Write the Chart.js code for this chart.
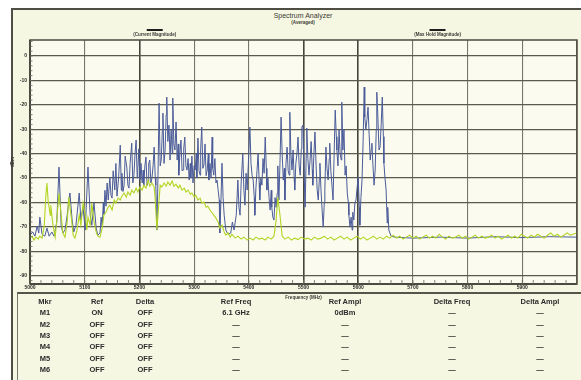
<!DOCTYPE html>
<html>
<head>
<meta charset="utf-8">
<script src="https://cdn.jsdelivr.net/npm/chart.js@4.4.1/dist/chart.umd.min.js"></script>
<style>
  html, body { margin: 0; padding: 0; background: #ffffff; }
  #wrap { position: relative; width: 581px; height: 380px; overflow: hidden;
          font-family: "Liberation Sans", Arial, sans-serif; }
  #panel { position: absolute; left: 11px; top: 8px; width: 580px; height: 380px;
           background: #f5f7e3; border-left: 2px solid #4e4e44; border-top: 2px solid #4e4e44;
           box-sizing: border-box; }
  #chartBox { position: absolute; left: 0; top: 0; width: 581px; height: 300px; }
  .hdr { position: absolute; transform: translate(-50%, -50%); white-space: nowrap; color: #3a3a34; }
  #title { left: 303px; top: 15px; font-size: 7px; }
  #subtitle { left: 303px; top: 22px; font-size: 4.5px; font-weight: bold; }
  #table { position: absolute; left: 17px; top: 292px; width: 570px; height: 100px;
           border-top: 2px solid #55554a; border-left: 1px solid #77776a; box-sizing: border-box; }
  .cell { position: absolute; transform: translate(-50%, -50%); white-space: nowrap;
          font-size: 7.5px; font-weight: bold; color: #2c2c2c; }
</style>
</head>
<body>
<div id="wrap">
  <div id="panel"></div>
  <div id="title" class="hdr">Spectrum Analyzer</div>
  <div id="subtitle" class="hdr">(Averaged)</div>
  <div id="chartBox"><canvas id="c" width="581" height="300"></canvas></div>
  <div id="table"></div>
</div>
<script>
// Max hold trace: frequency in MHz, level in dBm
const maxHoldFreq = [
  5000,5005,5009,5013,5016,5018,5022,5027,5031,5035,5040,5044,5049,5053,5057,5060,5064,5068,5071,5073,5077,5080,5084,5090,5093,5097,5101,5106,5110,5113,5117,5121,5124,
  5128,5130,5132,5134,5135,5137,5139,5141,5143,5146,5148,5150,5152,5155,5157,5159,5162,5165,5167,5168,5170,5172,5174,5177,5179,5181,5183,5186,5188,5190,5192,5194,5196,5197,5199,5201,5203,5205,5207,5208,5210,5212,5214,5216,5217,5219,5221,5223,5225,5227,5229,5230,5232,
  5234,5236,5238,5240,5242,5243,5245,5247,5249,5250,5252,5254,5255,5256,5258,5260,5261,5263,5265,5267,5269,5271,5272,5274,5276,5278,5280,5281,5283,5285,5287,5289,5291,5293,5294,5296,5298,5300,5302,5304,5305,5307,5309,5311,5312,5314,5316,5318,5320,5322,5324,5326,5327,5329,5331,5333,5334,5336,5338,5340,5342,5344,5346,5347,5349,5351,5353,5355,5358,
  5362,5367,5370,5373,5377,5380,5382,5384,5386,5389,5391,5393,5395,5397,5399,5402,5404,5406,5408,5410,5411,5413,5415,5417,5419,5420,5422,5424,5426,5428,5430,5432,5433,5435,5437,5439,5441,5442,5444,5446,5448,5450,5452,5453,5455,5457,5459,5461,5463,5465,
  5466,5468,5470,5472,5474,5475,5477,5479,5481,5483,5484,5486,5488,5490,5492,5494,5496,5497,5499,5501,5503,5505,5506,5508,5510,5512,5514,5516,5517,5519,5521,5523,5525,5527,5529,5530,5532,5534,5536,5538,
  5539,5541,5543,5545,5547,5548,5550,5552,5554,5556,5558,5560,5561,5563,5565,5567,5569,5570,5572,5574,5576,5578,5580,5582,5583,5585,5587,5589,5590,5592,5594,5596,5598,5600,5602,5603,5605,5607,5609,
  5611,5612,5614,5616,5618,5620,5622,5624,5625,5627,5629,5631,5633,5634,5636,5638,5640,5642,5644,5646,5647,5649,5651,5653,5654,5656,5658,5660,5667,5700,5750,5800,5850,5900,5950,6000];
const maxHoldLevel = [
  -73.4,-72.1,-73.8,-69.7,-72.5,-66.0,-73.0,-73.8,-70.5,-73.8,-72.1,-73.8,-68.0,-45.5,-69.3,-72.5,-71.3,-65.2,-59.0,-56.1,-67.2,-72.1,-69.3,-56.1,-67.2,-61.9,-71.3,-45.5,-65.2,-69.3,-60.2,-70.5,-73.4,
  -72.5,-66,-70,-60,-64.8,-55,-61.5,-52,-59.0,-49.6,-57,-58.2,-47,-54.9,-44,-57.4,-50,-36.5,-55,-48,-55.5,-52.9,-41,-45.5,-53,-54.1,-44,-35.7,-52,-48.8,-40,-34.4,-50,-46.7,-38,-50.8,-44,-52,-46.7,-52.9,-45,-41.4,-53,-51.6,-44,-42.6,-52,-50.0,-45,-37.3,-50,-52.9,-71.3,
  -48.8,-19.3,-45,-42.6,-30,-23.4,-44,-38.5,-24,-16.8,-35,-28.3,-34,-42.6,-30,-40,-17.2,-36,-38.5,-27,-42.6,-36,-48.8,-40,-34.4,-47,-46.7,-38,-33.2,-45,-46.7,-42,-50.8,-44,-50.0,-41,-52.0,-45,-46.7,-40,-50,-33.6,-47,-48.8,-38,-29.1,-46,-44.7,-36,-49,-46.7,-40,-50.8,-44,-50,-33.2,-46,-48.8,-42,-52,-50.8,-55,-59.0,-72.5,-60,-43.9,-58,-65.2,-71.3,
  -73.0,-72.5,-68,-71.3,-65.2,-50.8,-62,-65.2,-52,-39.8,-55,-61.1,-48,-54.9,-45,-29.1,-44,-48.8,-50.8,-58,-65.2,-54,-47,-39.8,-52,-59.0,-50,-52.9,-42,-48,-33.2,-46,-54.9,-50,-58,-63.1,-55,-61.9,-66,-67.2,-58,-62,-56.1,-45,-59.0,-44,-25.0,-40,-50.8,-46,
  -59.0,-44,-37.3,-47,-48.8,-23.0,-40,-46.7,-38.5,-50,-54.9,-44,-40,-33.2,-45,-48.8,-38,-29.1,-28.3,-46.7,-61.9,-40,-29.5,-42,-48.8,-42.6,-35,-46.7,-52.9,-40,-31.1,-45,-54.9,-59.0,-50,-43.9,-55,-63.1,-70.1,-60,
  -54.9,-37.3,-46,-50.8,-42,-35.7,-47,-52.9,-59.0,-40,-22.1,-33,-38.5,-45,-30.3,-40,-42.6,-18.9,-38.5,-30,-48.8,-45,-56.1,-60,-65.2,-70.1,-66,-71.3,-64,-67.2,-60,-59.0,-54,-49.6,-62,-69.3,-58,-50.8,-35,
  -12.7,-25,-30.3,-26,-20.9,-32,-42.6,-38,-35.7,-45,-52.9,-46.7,-30,-14.8,-25,-38.5,-37.3,-28,-16.8,-33,-43.9,-50,-54.9,-68.4,-62,-71.3,-72.5,-73.8,-74.2,-74.6,-74.2,-74.6,-74.0,-74.4,-74.0,-74.2];

// Current trace: frequency in MHz, level in dBm
const currentFreq = [5000,5004,5007,5011,5015,5018,5022,5026,5029,5031,5033,5037,5038,5042,5046,5049,5053,5057,5060,5064,5068,5071,5075,5079,5082,5086,5090,5093,5097,5101,5104,5106,5110,5113,5117,5121,5124,5128,5132,5135,5139,5143,5146,5150,5154,5157,5161,5165,5168,5172,5176,5179,5183,5186,5190,5194,5197,5201,5205,5208,5212,5216,5219,5223,5227,5229,5232,5236,5238,5241,5245,5249,5252,5256,5260,5263,5267,5271,5274,5278,5282,5285,5289,5293,5296,5300,5303,5307,5311,5314,5318,5322,5325,5329,5333,5336,5340,5344,5347,5351,5355,5358,5362,5366,5369,5375,5380,5386,5391,5397,5402,5408,5413,5419,5424,5430,5435,5441,5446,5450,5453,5457,5461,5466,5472,5478,5484,5490,5496,5502,5508,5514,5520,5526,5532,5538,5544,5550,5556,5562,5568,5574,5580,5586,5592,5598,5604,5610,5616,5622,5628,5634,5640,5646,5652,5658,5664,5670,5676,5682,5688,5694,5700,5706,5712,5718,5724,5730,5736,5742,5748,5754,5760,5766,5772,5778,5784,5790,5796,5802,5808,5814,5820,5826,5832,5838,5844,5850,5856,5862,5868,5874,5880,5886,5892,5898,5904,5910,5916,5922,5928,5934,5940,5946,5952,5958,5964,5970,5976,5982,5988,5994,6000];
const currentLevel = [-74.6,-73.8,-75.4,-74.2,-75.0,-73.8,-74.6,-69.7,-57.0,-52.0,-59.0,-65.2,-61.1,-69.3,-74.2,-67.2,-56.1,-65.2,-72.5,-74.2,-68.0,-57.8,-65.2,-73.4,-74.6,-71.3,-65.2,-69.3,-60.2,-65.2,-71.3,-66.0,-69.3,-60.2,-68.0,-72.1,-73.8,-74.2,-70.5,-65.2,-63.9,-61.9,-61.1,-63.1,-59.0,-60.2,-58.2,-59.0,-57.4,-56.1,-57.8,-55.7,-57.0,-54.9,-56.1,-54.1,-55.7,-53.7,-54.9,-52.9,-54.1,-50.8,-53.3,-52.0,-53.7,-59.0,-71.3,-59.0,-52.9,-53.7,-52.0,-53.3,-51.6,-52.9,-51.2,-53.3,-52.5,-54.1,-52.9,-54.9,-54.1,-55.7,-54.9,-56.6,-56.1,-57.8,-57.0,-59.0,-58.2,-60.2,-59.8,-61.9,-61.5,-63.1,-64.3,-65.2,-66.4,-68.0,-70.5,-69.3,-72.1,-73.4,-72.5,-74.2,-73.0,-74.6,-73.8,-75.0,-74.2,-75.4,-74.6,-75.4,-74.2,-75.0,-74.6,-75.4,-74.2,-75.0,-73.8,-67.2,-57.8,-65.2,-73.8,-75.0,-74.2,-75.4,-74.6,-75.2,-74.2,-75.0,-74.6,-75.4,-74.2,-75.0,-74.6,-73.8,-75.0,-74.2,-75.4,-74.6,-73.8,-75.0,-74.2,-75.4,-74.6,-73.8,-75.0,-74.2,-75.4,-74.6,-73.8,-75.0,-74.2,-75.0,-73.8,-74.6,-73.4,-74.6,-73.8,-75.0,-74.2,-73.4,-74.6,-73.8,-75.0,-74.2,-73.4,-74.6,-73.8,-74.6,-73.0,-74.2,-75.0,-73.8,-74.6,-74.2,-73.4,-74.6,-73.8,-75.0,-74.2,-73.4,-74.6,-73.8,-74.6,-74.2,-73.4,-74.6,-73.8,-75.0,-74.2,-73.4,-74.6,-73.8,-74.6,-73.0,-73.8,-74.6,-73.4,-74.2,-73.0,-73.8,-74.6,-73.4,-72.5,-73.8,-73.0,-74.2,-73.4,-72.5,-73.4,-72.9,-72.5];

// Axis ticks
const freqTicks = [5000,5100,5200,5300,5400,5500,5600,5700,5800,5900,6000];
const levelTicks = [0,-10,-20,-30,-40,-50,-60,-70,-80,-90];

// Marker table
const tableHeader = ['Mkr','Ref','Delta','Ref Freq','Ref Ampl','Delta Freq','Delta Ampl'];
const markerNames = ['M1','M2','M3','M4','M5','M6'];
const markerRef   = ['ON','OFF','OFF','OFF','OFF','OFF'];
const markerDelta = ['OFF','OFF','OFF','OFF','OFF','OFF'];
const markerRefFreq  = ['6.1 GHz','—','—','—','—','—'];
const markerRefAmpl  = ['0dBm','—','—','—','—','—'];
const markerDeltaFreq = ['—','—','—','—','—','—'];
const markerDeltaAmpl = ['—','—','—','—','—','—'];

const toPoints = (xs, ys) => xs.map((x, i) => ({ x: x, y: ys[i] }));

// Plot background, frame, minor ticks and the legend above the plot
const frameAndLegend = {
  id: 'frameAndLegend',
  beforeDraw(chart) {
    const { ctx, chartArea: a } = chart;
    ctx.save();
    ctx.fillStyle = '#fbfcef';
    ctx.fillRect(a.left, a.top, a.right - a.left, a.bottom - a.top);
    ctx.restore();
  },
  afterDraw(chart) {
    const { ctx, chartArea: a, scales } = chart;
    ctx.save();
    ctx.strokeStyle = '#4a4a40';
    ctx.lineWidth = 1.5;
    ctx.strokeRect(a.left, a.top, a.right - a.left, a.bottom - a.top);
    ctx.lineWidth = 2;
    ctx.beginPath();
    ctx.moveTo(a.left, a.bottom); ctx.lineTo(a.right, a.bottom);
    ctx.moveTo(a.left, a.top); ctx.lineTo(a.left, a.bottom);
    ctx.stroke();
    // minor ticks
    ctx.lineWidth = 0.8;
    ctx.strokeStyle = '#6a6a5c';
    ctx.beginPath();
    for (let f = 5000; f <= 6000; f += 20) {
      const x = scales.x.getPixelForValue(f);
      ctx.moveTo(x, a.bottom); ctx.lineTo(x, a.bottom - 4);
    }
    for (let v = -92; v <= 6; v += 2) {
      const y = scales.y.getPixelForValue(v);
      ctx.moveTo(a.left, y); ctx.lineTo(a.left + 2.5, y);
    }
    ctx.stroke();
    // legend: short dark bar over each series name
    const spots = [0.228, 0.745];
    chart.data.datasets.forEach((ds, i) => {
      const cx = a.left + spots[i] * (a.right - a.left);
      ctx.fillStyle = '#1e1e1e';
      ctx.fillRect(cx - 8, 29, 16, 2);
      ctx.font = 'bold 4.5px "Liberation Sans", Arial, sans-serif';
      ctx.fillStyle = '#3a3a34';
      ctx.textAlign = 'center';
      ctx.textBaseline = 'middle';
      ctx.fillText('(' + ds.label + ')', cx, 35);
    });
    ctx.restore();
  }
};

const darkLines = [5200, 5500, 5600];

new Chart(document.getElementById('c'), {
  type: 'line',
  data: {
    datasets: [
      { label: 'Current Magnitude', data: toPoints(currentFreq, currentLevel),
        borderColor: '#b2d423', borderWidth: 1.1, pointRadius: 0, tension: 0, order: 0 },
      { label: 'Max Hold Magnitude', data: toPoints(maxHoldFreq, maxHoldLevel),
        borderColor: '#4b5b99', borderWidth: 1, pointRadius: 0, tension: 0, order: 1 }
    ]
  },
  options: {
    responsive: false,
    animation: false,
    events: [],
    layout: { padding: { left: 10, top: 40, right: 4, bottom: 0 } },
    plugins: { legend: { display: false }, tooltip: { enabled: false }, title: { display: false } },
    scales: {
      x: {
        type: 'linear', min: 5000, max: 6000,
        afterBuildTicks: s => { s.ticks = freqTicks.map(v => ({ value: v })); },
        afterFit: s => { s.height = 16; },
        grid: { color: c => darkLines.includes(c.tick && c.tick.value) ? '#45453c' : '#77776a',
                lineWidth: c => darkLines.includes(c.tick && c.tick.value) ? 1.6 : 1.1,
                drawTicks: false },
        border: { display: false },
        ticks: { padding: 1, maxRotation: 0, autoSkip: false, color: '#2e2e2a',
                 font: { size: 5, weight: 'bold', family: '"Liberation Sans", Arial, sans-serif' },
                 callback: v => v === 6000 ? '' : String(v) },
        title: { display: true, text: 'Frequency (MHz)', color: '#3a3a34', padding: 0,
                 font: { size: 4.5, weight: 'bold', family: '"Liberation Sans", Arial, sans-serif' } }
      },
      y: {
        type: 'linear', min: -93.4, max: 6.6,
        afterBuildTicks: s => { s.ticks = levelTicks.map(v => ({ value: v })); },
        afterFit: s => { s.width = 20; },
        grid: { color: '#5a5a4e', lineWidth: 1.3, drawTicks: false },
        border: { display: false },
        ticks: { padding: 3, color: '#2e2e2a',
                 font: { size: 5, weight: 'bold', family: '"Liberation Sans", Arial, sans-serif' } },
        title: { display: true, text: 'dBm', color: '#3a3a34', padding: 0,
                 font: { size: 4.5, weight: 'bold', family: '"Liberation Sans", Arial, sans-serif' } }
      }
    }
  },
  plugins: [frameAndLegend]
});

// Marker table below the plot
const colX = [45, 97, 145, 236, 345, 452, 540];
const rowY0 = 301, rowStep = 11.3;
const wrap = document.getElementById('wrap');
function addCell(text, x, y) {
  const d = document.createElement('div');
  d.className = 'cell';
  d.textContent = text;
  d.style.left = x + 'px';
  d.style.top = y + 'px';
  wrap.appendChild(d);
}
tableHeader.forEach((h, i) => addCell(h, colX[i], rowY0));
markerNames.forEach((m, r) => {
  const y = rowY0 + (r + 1) * rowStep;
  const row = [m, markerRef[r], markerDelta[r], markerRefFreq[r], markerRefAmpl[r], markerDeltaFreq[r], markerDeltaAmpl[r]];
  row.forEach((t, i) => addCell(t, colX[i], y));
});
</script>
</body>
</html>
